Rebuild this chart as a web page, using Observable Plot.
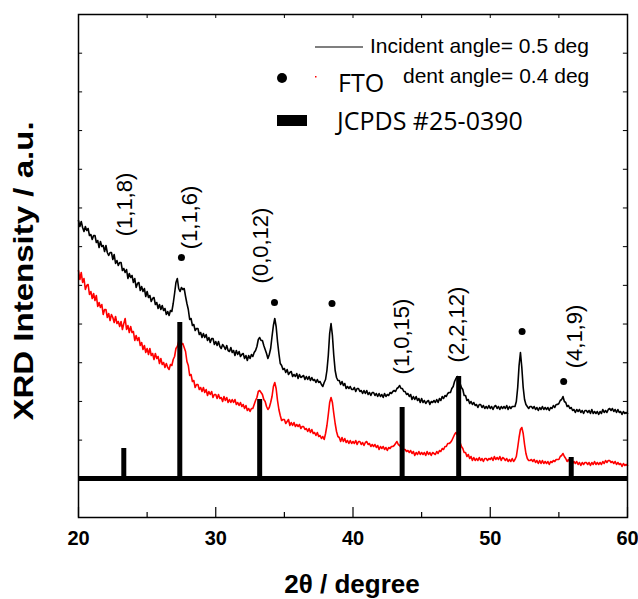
<!DOCTYPE html>
<html><head><meta charset="utf-8">
<script src="https://cdn.jsdelivr.net/npm/d3@7"></script>
<script src="https://cdn.jsdelivr.net/npm/@observablehq/plot@0.6"></script>
<style>body{margin:0;background:#fff}</style>
</head><body><div id="chart"></div>
<script>
// 2θ sampling grid (degrees)
const twoThetaStart = 20, twoThetaStep = 0.1;
// XRD intensity (a.u.), incident angle 0.5 deg
const black05 = [
297,291,296,290,286,291,287,289,282,283,
278,282,282,275,277,270,276,271,272,266,
272,265,262,265,265,258,263,254,257,252,
255,255,247,249,245,248,239,244,240,242,
235,239,230,234,235,227,231,226,229,221,
226,220,222,216,219,220,213,215,209,213,
208,212,207,209,203,206,202,207,206,214,
224,235,239,229,226,230,228,229,221,214,
208,198,199,192,193,187,189,189,183,185,
180,184,180,183,177,180,175,179,179,173,
176,172,176,171,169,173,171,168,172,167,
166,170,165,167,162,167,163,166,161,163,
164,159,162,157,162,159,163,161,165,167,
171,178,180,177,177,172,168,164,159,163,
169,181,192,199,191,176,164,154,152,148,
149,145,148,143,145,146,141,143,141,144,
139,143,140,141,142,138,141,138,141,137,
140,137,138,135,138,135,136,133,131,135,
138,147,162,184,194,182,162,147,140,137,
137,133,136,132,134,129,131,129,131,128,
128,130,126,129,129,126,127,124,127,124,
127,123,125,122,125,125,122,124,121,124,
121,123,120,124,121,123,122,125,124,126,
127,126,129,130,132,129,129,126,126,123,
124,121,123,118,121,118,121,117,119,115,
119,115,117,114,116,117,113,116,115,117,
115,118,115,119,117,121,119,122,121,124,
125,125,129,131,136,139,141,136,134,130,
128,122,122,117,118,114,116,113,115,112,
113,110,113,113,110,112,109,111,109,112,
109,111,108,111,112,109,111,108,111,109,
111,109,112,108,111,109,111,111,111,116,
130,152,165,150,130,118,113,111,109,111,
111,109,111,108,110,107,110,108,111,108,
110,108,110,107,110,109,112,110,113,113,
114,117,118,121,116,115,111,112,109,110,
107,108,105,108,106,108,105,107,104,107,
107,105,107,104,108,104,106,104,106,103,
106,104,108,105,107,105,108,109,107,109,
106,108,105,108,105,106,103,106,104,105,
104];
// XRD intensity (a.u.), incident angle 0.4 deg
const red04 = [
247,238,245,235,239,228,232,233,223,226,
219,224,217,222,211,215,210,213,203,208,
208,200,204,197,203,200,195,201,194,196,
191,196,188,194,199,188,192,185,191,185,
186,177,182,177,180,172,175,168,172,165,
169,163,169,162,164,158,164,159,161,154,
159,153,155,150,154,150,148,153,152,158,
161,169,171,176,172,173,174,170,166,156,
152,142,143,136,137,130,133,133,128,130,
126,130,125,128,122,126,123,126,120,123,
123,119,123,119,120,116,121,117,120,115,
118,115,118,115,118,113,115,112,115,111,
113,109,112,107,109,106,109,109,113,117,
120,126,127,125,123,118,116,111,108,110,
115,121,131,135,129,117,108,102,97,98,
98,94,96,98,92,95,92,95,91,93,
91,93,89,91,91,88,89,86,89,85,
88,84,85,82,85,81,82,79,81,78,
84,92,103,115,120,115,104,94,86,81,
80,76,80,76,79,75,77,74,77,74,
76,74,77,73,76,76,73,75,72,75,
76,73,74,71,73,71,73,70,72,68,
71,69,71,68,70,67,70,69,71,71,
72,74,76,73,72,70,70,68,68,66,
67,65,67,64,66,62,65,63,66,63,
65,63,65,62,66,63,65,62,65,64,
63,66,64,67,66,69,68,71,71,74,
74,75,77,80,83,85,83,79,75,71,
69,65,65,61,63,59,61,57,60,57,
59,57,60,57,59,56,59,59,57,59,
58,60,57,61,58,60,58,61,57,60,
59,57,59,56,58,56,59,56,58,61,
70,80,88,90,84,73,64,59,57,57,
58,56,58,55,57,54,57,54,57,54,
56,54,56,53,56,55,57,56,58,58,
58,61,62,64,61,59,56,58,55,57,
54,56,54,56,53,55,52,55,53,55,
55,53,55,52,55,53,56,53,55,53,
55,53,56,54,57,55,57,57,55,56,
54,56,53,55,53,54,51,54,52,53,
52];
// JCPDS #25-0390 reference lines
const jcpdsPos = [23.3, 27.38, 33.2, 43.58, 47.7, 55.9];
const jcpdsTop = [69, 195, 118, 110, 141, 60];
const jcpdsBase = 39;
// FTO peak markers
const ftoPos = [27.5, 34.28, 38.47, 52.32, 55.35];
const ftoY = [260, 215, 214, 186, 136];
// hkl labels
const hklLabels = ["(1,1,8)", "(1,1,6)", "(0,0,12)", "(1,0,15)", "(2,2,12)", "(4,1,9)"];
const hklX = [23.4, 28.1, 33.3, 43.6, 47.6, 56.2];
const hklY = [313, 300, 272, 181, 193, 181];
// axis ticks
const xTickLabels = [20, 30, 40, 50, 60];
const xMinorTicks = [25, 35, 45, 55];
const topTicks = [25, 30, 35, 40, 45, 50, 55];
const yDomainMax = 503;
const yTicks = d3.range(1, 13).map(k => k * yDomainMax / 13);

const black = black05.map((v, i) => ({x: twoThetaStart + i * twoThetaStep, y: v}));
const red = red04.map((v, i) => ({x: twoThetaStart + i * twoThetaStep, y: v}));
const jcpds = jcpdsPos.map((x, i) => ({x, top: jcpdsTop[i]}));
const fto = ftoPos.map((x, i) => ({x, y: ftoY[i]}));
const hkl = hklLabels.map((t, i) => ({t, x: hklX[i], y: hklY[i]}));

const svg = Plot.plot({
  width: 638, height: 599,
  marginLeft: 78, marginRight: 11, marginTop: 14, marginBottom: 82,
  x: {domain: [20, 60], ticks: xTickLabels, tickSize: 0, tickPadding: 13, label: null, tickFormat: d => String(d)},
  y: {domain: [0, yDomainMax], axis: null},
  style: {fontFamily: "'Liberation Sans', Arial, sans-serif", fontSize: "20px", fontWeight: "bold", color: "#000", background: "#fff", overflow: "visible"},
  marks: [
    Plot.line(red, {x: "x", y: "y", stroke: "#ff0000", strokeWidth: 1.6}),
    Plot.line(black, {x: "x", y: "y", stroke: "#000", strokeWidth: 1.6}),
    Plot.ruleY([jcpdsBase], {x1: 20, x2: 60, stroke: "#000", strokeWidth: 5}),
    Plot.ruleX(jcpds, {x: "x", y1: jcpdsBase, y2: "top", stroke: "#000", strokeWidth: 5}),
    Plot.dot(fto, {x: "x", y: "y", r: 3.5, fill: "#000"}),
    Plot.text(hkl, {x: "x", y: "y", text: "t", rotate: -90, fontSize: 22, fontWeight: "normal", fill: "#000"}),
    Plot.ruleX(xTickLabels, {x: d => d, y1: 0, y2: 10, stroke: "#000", strokeWidth: 1.2}),
    Plot.ruleX(xMinorTicks, {x: d => d, y1: 0, y2: 5, stroke: "#000", strokeWidth: 1.2}),
    Plot.ruleX(topTicks, {x: d => d, y1: yDomainMax - 4, y2: yDomainMax, stroke: "#000", strokeWidth: 1}),
    Plot.ruleY(yTicks, {y: d => d, x1: 20, x2: 20.3, stroke: "#000", strokeWidth: 1}),
    Plot.ruleY(yTicks, {y: d => d, x1: 59.7, x2: 60, stroke: "#000", strokeWidth: 1}),
    Plot.frame({stroke: "#000", strokeWidth: 1.5})
  ]
});

const s = d3.select(svg);
// axis titles
s.append("text").attr("x", 352).attr("y", 593).attr("text-anchor", "middle")
  .style("font", "bold 26px 'Liberation Sans', Arial, sans-serif").attr("fill", "#000").text("2θ / degree");
s.append("text").attr("transform", "translate(33,271) rotate(-90) scale(1.18,1)").attr("text-anchor", "middle")
  .style("font", "bold 28px 'Liberation Sans', Arial, sans-serif").attr("fill", "#000").text("XRD Intensity / a.u.");
// legend (second entry partly hidden behind the FTO/JCPDS legend, as in the original)
const lg = s.append("g").attr("text-anchor", "start").style("font-weight", "normal");
lg.append("line").attr("x1", 315).attr("x2", 363).attr("y1", 47).attr("y2", 47).attr("stroke", "#000").attr("stroke-width", 1.2);
lg.append("text").attr("x", 370).attr("y", 53).attr("text-anchor", "start").style("font", "21px 'Liberation Sans', Arial, sans-serif").attr("fill", "#000").text("Incident angle= 0.5 deg");
lg.append("rect").attr("x", 315).attr("y", 76).attr("width", 1.5).attr("height", 1.5).attr("fill", "#ff0000");
lg.append("text").attr("x", 403).attr("y", 83).attr("text-anchor", "start").style("font", "21px 'Liberation Sans', Arial, sans-serif").attr("fill", "#000").text("dent angle= 0.4 deg");
lg.append("circle").attr("cx", 282).attr("cy", 78).attr("r", 5).attr("fill", "#000");
lg.append("text").attr("x", 338).attr("y", 92).attr("text-anchor", "start").style("font", "25px 'Open Sans', sans-serif").attr("fill", "#000").text("FTO");
lg.append("rect").attr("x", 277).attr("y", 115).attr("width", 30).attr("height", 11).attr("fill", "#000");
lg.append("text").attr("x", 337).attr("y", 130).attr("text-anchor", "start").style("font", "25px 'Open Sans', sans-serif").attr("fill", "#000").text("JCPDS #25-0390");

document.getElementById("chart").appendChild(svg);
</script>
</body></html>
